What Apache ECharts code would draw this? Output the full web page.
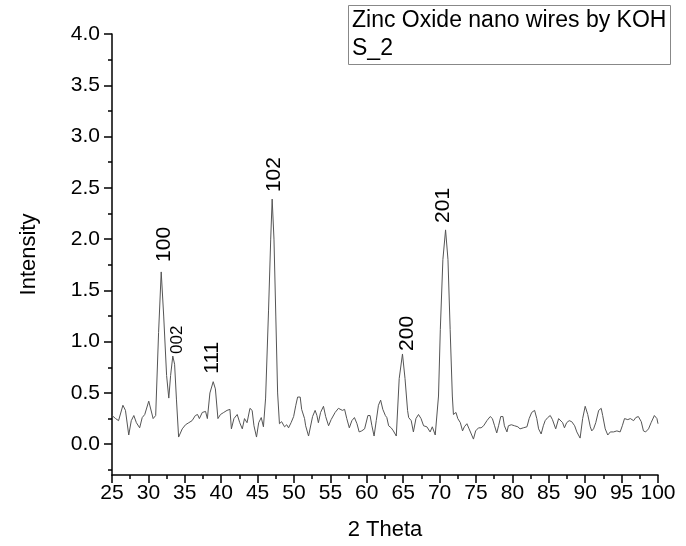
<!DOCTYPE html>
<html>
<head>
<meta charset="utf-8">
<title>Zinc Oxide nano wires by KOH</title>
<script src="https://cdn.jsdelivr.net/npm/echarts@6/dist/echarts.min.js"></script>
<style>
    html, body { margin: 0; padding: 0; background: #fff; }
    #chart { width: 686px; height: 546px; }
</style>
</head>
<body>
<div id="chart"></div>
<script>
// 2 Theta positions
const twoTheta = [
    25.0, 25.5, 25.9, 26.5, 26.85, 27.3, 27.65, 28.0, 28.35, 28.8, 29.15, 29.5, 30.05, 30.3, 30.65, 31.0,
    31.4, 31.76, 32.1, 32.5, 32.8, 33.05, 33.35, 33.6, 33.85, 34.15, 34.65, 35.1, 35.55, 36.0, 36.45, 36.75,
    37.0, 37.4, 37.85, 38.1, 38.45, 38.9, 39.2, 39.55, 39.9, 40.35, 40.8, 41.2, 41.4, 41.75, 42.2, 42.55,
    42.9, 43.2, 43.55, 43.95, 44.25, 44.5, 44.85, 45.15, 45.5, 45.8, 46.1, 46.5, 46.8, 47.0, 47.25, 47.5,
    47.75, 48.0, 48.3, 48.7, 49.0, 49.25, 49.6, 49.95, 50.25, 50.5, 50.85, 51.05, 51.45, 51.6, 52.0, 52.55,
    52.9, 53.15, 53.35, 53.65, 54.05, 54.35, 54.75, 55.1, 55.3, 55.65, 56.1, 56.65, 56.95, 57.25, 57.6, 57.95,
    58.3, 58.65, 58.95, 59.3, 59.7, 60.15, 60.45, 60.7, 61.0, 61.3, 61.6, 61.9, 62.2, 62.55, 62.75, 63.0,
    63.35, 63.65, 64.05, 64.45, 64.9, 65.25, 65.6, 65.75, 66.1, 66.4, 66.75, 67.1, 67.45, 67.8, 68.25, 68.7,
    69.0, 69.4, 69.85, 70.1, 70.45, 70.82, 71.15, 71.45, 71.75, 71.9, 72.25, 72.5, 72.85, 73.15, 73.4, 73.75,
    74.05, 74.35, 74.65, 74.95, 75.35, 75.7, 76.05, 76.5, 76.95, 77.25, 77.55, 77.85, 78.1, 78.4, 78.7, 78.9,
    79.25, 79.45, 79.85, 80.3, 80.75, 81.05, 81.5, 82.0, 82.3, 82.65, 83.05, 83.35, 83.6, 83.95, 84.25, 84.5,
    84.85, 85.2, 85.5, 85.95, 86.35, 86.55, 86.9, 87.15, 87.45, 87.8, 88.15, 88.55, 88.85, 89.3, 89.65, 90.0,
    90.35, 90.7, 90.9, 91.15, 91.45, 91.85, 92.2, 92.4, 92.75, 93.1, 93.45, 93.9, 94.35, 94.8, 95.1, 95.4,
    95.85, 96.2, 96.4, 96.65, 96.95, 97.3, 97.7, 98.0, 98.3, 98.7, 99.05, 99.5, 99.85, 100.0
];
// measured intensity at each position
const intensity = [
    0.28, 0.25, 0.23, 0.38, 0.33, 0.09, 0.23, 0.28, 0.21, 0.16, 0.26, 0.29, 0.42, 0.41, 0.25, 0.28,
    1.09, 1.68, 1.25, 0.67, 0.45, 0.67, 0.86, 0.78, 0.44, 0.07, 0.15, 0.19, 0.21, 0.23, 0.28, 0.29,
    0.25, 0.31, 0.32, 0.25, 0.50, 0.61, 0.54, 0.25, 0.29, 0.31, 0.33, 0.34, 0.15, 0.25, 0.29, 0.21,
    0.15, 0.25, 0.21, 0.35, 0.33, 0.18, 0.07, 0.21, 0.26, 0.17, 0.45, 1.30, 2.00, 2.39, 2.00, 1.25,
    0.50, 0.20, 0.22, 0.17, 0.19, 0.16, 0.21, 0.27, 0.38, 0.46, 0.46, 0.34, 0.25, 0.18, 0.08, 0.27,
    0.33, 0.28, 0.21, 0.31, 0.37, 0.27, 0.18, 0.24, 0.25, 0.31, 0.35, 0.33, 0.34, 0.25, 0.16, 0.23,
    0.26, 0.20, 0.12, 0.13, 0.15, 0.28, 0.28, 0.18, 0.08, 0.23, 0.38, 0.43, 0.34, 0.28, 0.26, 0.18,
    0.16, 0.13, 0.08, 0.64, 0.88, 0.64, 0.33, 0.26, 0.23, 0.12, 0.25, 0.29, 0.25, 0.18, 0.17, 0.12,
    0.17, 0.09, 0.47, 1.12, 1.80, 2.09, 1.80, 1.12, 0.47, 0.29, 0.31, 0.25, 0.21, 0.13, 0.17, 0.20,
    0.15, 0.10, 0.05, 0.13, 0.16, 0.16, 0.18, 0.23, 0.27, 0.25, 0.18, 0.11, 0.18, 0.27, 0.27, 0.18,
    0.12, 0.18, 0.19, 0.18, 0.17, 0.15, 0.16, 0.17, 0.25, 0.31, 0.33, 0.25, 0.15, 0.10, 0.18, 0.23,
    0.26, 0.28, 0.24, 0.15, 0.25, 0.26, 0.21, 0.16, 0.21, 0.23, 0.22, 0.18, 0.12, 0.06, 0.25, 0.37,
    0.29, 0.17, 0.13, 0.15, 0.21, 0.33, 0.35, 0.28, 0.15, 0.09, 0.12, 0.12, 0.13, 0.12, 0.18, 0.25,
    0.24, 0.25, 0.26, 0.23, 0.26, 0.27, 0.22, 0.13, 0.12, 0.15, 0.21, 0.28, 0.25, 0.20
];

// indexed reflections (hkl) and their peak tops
const peakNames = ['100', '002', '111', '102', '200', '201'];
const peakTheta = [31.76, 33.35, 38.9, 47.0, 64.9, 70.82];
const peakIntensity = [1.68, 0.86, 0.61, 2.39, 0.88, 2.09];

// axis ticks
const yTickValues = [0, 0.5, 1.0, 1.5, 2.0, 2.5, 3.0, 3.5, 4.0];
const yMinorValues = [-0.25, 0.25, 0.75, 1.25, 1.75, 2.25, 2.75, 3.25, 3.75];

const legendText = ['Zinc Oxide nano wires by KOH', 'S_2'];

// label placement for each reflection: [dx px, gap px, font size]
const peakLabelStyle = [[3, 10, 21], [5, 2, 17], [-1, 8, 21], [2, 7, 21], [5, 3, 21], [-2, 7, 21]];

const tickFont = "'Liberation Sans Narrow', 'Liberation Sans', Arial, sans-serif";
const textFont = "'Liberation Sans', Arial, sans-serif";

const chart = echarts.init(document.getElementById('chart'), null, { renderer: 'canvas' });

const axisLineStyle = { color: '#000', width: 1.5 };

const option = {
    backgroundColor: '#fff',
    animation: false,
    title: {
        left: 348,
        top: 5,
        text: legendText.join('\n'),
        padding: [2, 4, 2, 4],
        borderColor: '#888',
        borderWidth: 1,
        textStyle: {
            fontFamily: textFont,
            fontSize: 23,
            fontWeight: 'normal',
            color: '#000',
            lineHeight: 28
        }
    },
    grid: { left: 112, right: 28, top: 34, bottom: 70 },
    xAxis: {
        type: 'value',
        min: 25,
        max: 100,
        interval: 5,
        name: '2 Theta',
        nameLocation: 'middle',
        nameGap: 44,
        nameTextStyle: { fontFamily: textFont, fontSize: 22, color: '#000' },
        axisLine: { onZero: false, lineStyle: axisLineStyle },
        axisTick: { length: 8, lineStyle: axisLineStyle },
        minorTick: { show: true, splitNumber: 2, length: 4, lineStyle: axisLineStyle },
        axisLabel: { margin: 8, fontFamily: tickFont, fontSize: 21, color: '#000' },
        splitLine: { show: false }
    },
    yAxis: [{
        type: 'value',
        min: -0.3,
        max: 4.0,
        name: 'Intensity',
        nameLocation: 'middle',
        nameGap: 72,
        nameTextStyle: { fontFamily: textFont, fontSize: 22, color: '#000' },
        axisLine: { onZero: false, lineStyle: axisLineStyle },
        axisTick: { length: 8, customValues: yTickValues, lineStyle: axisLineStyle },
        axisLabel: {
            margin: 12,
            customValues: yTickValues,
            fontFamily: tickFont,
            fontSize: 21,
            color: '#000',
            formatter: v => v.toFixed(1)
        },
        splitLine: { show: false }
    }, {
        // minor ticks only
        type: 'value',
        min: -0.3,
        max: 4.0,
        position: 'left',
        axisLine: { show: false, onZero: false },
        axisTick: { length: 4, customValues: yMinorValues, lineStyle: axisLineStyle },
        axisLabel: { show: false },
        splitLine: { show: false }
    }],
    series: [{
        type: 'line',
        data: twoTheta.map((t, i) => [t, intensity[i]]),
        showSymbol: false,
        smooth: false,
        lineStyle: { color: '#555', width: 1 },
        z: 3
    }, {
        type: 'custom',
        data: peakTheta.map((t, i) => [t, peakIntensity[i]]),
        encode: { x: 0, y: 1 },
        renderItem(params, api) {
            const i = params.dataIndex;
            const p = api.coord([api.value(0), api.value(1)]);
            const s = peakLabelStyle[i];
            return {
                type: 'text',
                x: p[0] + s[0],
                y: p[1] - s[1],
                rotation: Math.PI / 2,
                style: {
                    text: peakNames[i],
                    fontFamily: textFont,
                    fontSize: s[2],
                    fill: '#000',
                    align: 'left',
                    verticalAlign: 'middle'
                }
            };
        },
        z: 4
    }]
};

chart.setOption(option);
</script>
</body>
</html>
